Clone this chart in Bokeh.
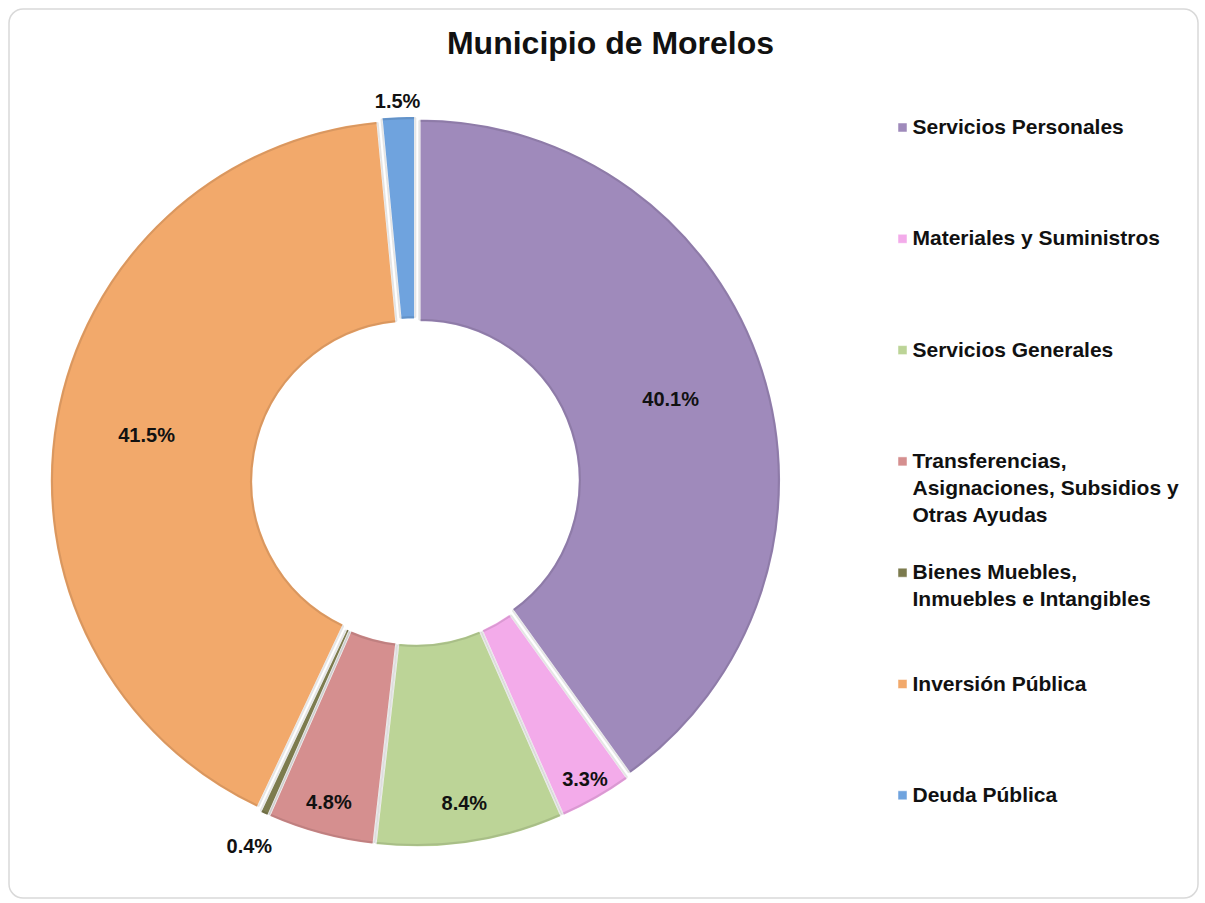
import math
from bokeh.plotting import figure
from bokeh.models import Range1d, ColumnDataSource
from bokeh.core.properties import value
from bokeh.embed import file_html
from bokeh.resources import INLINE

# ---- data ----
categories = [
    "Servicios Personales",
    "Materiales y Suministros",
    "Servicios Generales",
    "Transferencias, Asignaciones, Subsidios y Otras Ayudas",
    "Bienes Muebles, Inmuebles e Intangibles",
    "Inversión Pública",
    "Deuda Pública",
]
legend_labels = [
    "Servicios Personales",
    "Materiales y Suministros",
    "Servicios Generales",
    "Transferencias,\nAsignaciones, Subsidios y\nOtras Ayudas",
    "Bienes Muebles,\nInmuebles e Intangibles",
    "Inversión Pública",
    "Deuda Pública",
]
percent = [40.1, 3.3, 8.4, 4.8, 0.4, 41.5, 1.5]
pct_labels = ["40.1%", "3.3%", "8.4%", "4.8%", "0.4%", "41.5%", "1.5%"]
title_text = "Municipio de Morelos"

# ---- style ----
colors = ["#9F8ABB", "#F3ABEA", "#BCD497", "#D58F8F", "#7C7B4E", "#F2A96B", "#6FA3DE"]
label_radius = [268, 342, 325, 332, 401, 273, 381]

W, H = 1200, 900
cx, cy = 415, H - 481
R_OUT, R_IN = 362, 158
EXPLODE = 4
FONT = "Liberation Sans"

p = figure(width=W, height=H, output_backend="svg", toolbar_location=None,
           x_range=Range1d(0, W), y_range=Range1d(0, H), min_border=0,
           background_fill_color="white", border_fill_color="white")
p.axis.visible = False
p.grid.visible = False
p.outline_line_color = None

# chart-area border (rounded if supported)
try:
    p.quad(left=[8.5], right=[1197.5], top=[H - 8.5], bottom=[H - 897.5],
           fill_color=None, line_color="#D9D9D9", line_width=1.5, border_radius=14)
except Exception:
    p.quad(left=[8.5], right=[1197.5], top=[H - 8.5], bottom=[H - 897.5],
           fill_color=None, line_color="#D9D9D9", line_width=1.5)

total = sum(percent)
starts, ends, xs, ys, lx, ly = [], [], [], [], [], []
cum = 0.0
for v, lr in zip(percent, label_radius):
    a0 = math.pi / 2 - 2 * math.pi * (cum + v) / total
    a1 = math.pi / 2 - 2 * math.pi * cum / total
    mid = (a0 + a1) / 2
    starts.append(a0)
    ends.append(a1)
    xs.append(cx + EXPLODE * math.cos(mid))
    ys.append(cy + EXPLODE * math.sin(mid))
    lx.append(cx + lr * math.cos(mid))
    ly.append(cy + lr * math.sin(mid))
    cum += v

src = ColumnDataSource(dict(x=xs, y=ys, start=starts, end=ends, color=colors,
                            lx=lx, ly=ly, lab=pct_labels, cat=categories))

p.annular_wedge(x="x", y="y", inner_radius=R_IN, outer_radius=R_OUT,
                start_angle="start", end_angle="end", fill_color="color",
                line_color="white", line_width=2.5, source=src)
# subtle darker rim for the bevelled look
p.annular_wedge(x="x", y="y", inner_radius=R_IN + 2.5, outer_radius=R_OUT - 2.5,
                start_angle="start", end_angle="end", fill_color=None,
                line_color="#000000", line_alpha=0.10, line_width=2, source=src)

p.text(x="lx", y="ly", text="lab", source=src, text_align="center",
       text_baseline="middle", text_font=value(FONT), text_font_style="bold",
       text_font_size="20px", text_color="#111111")

# title
p.text(x=[610], y=[H - 42], text=[title_text], text_align="center",
       text_baseline="middle", text_font=value(FONT), text_font_style="bold",
       text_font_size="32px", text_color="#111111")

# legend (drawn manually)
leg_x = 902
leg_y0 = H - 127
leg_step = 111.3
n = len(categories)
leg_ys = [leg_y0 - i * leg_step for i in range(n)]
lsrc = ColumnDataSource(dict(x=[leg_x] * n, y=leg_ys, color=colors,
                             tx=[leg_x + 10] * n,
                             ty=[y + 12.5 for y in leg_ys], lab=legend_labels))
p.rect(x="x", y="y", width=9, height=9, fill_color="color", line_color="#FFFFFF",
       line_width=0.5, source=lsrc)
p.text(x="tx", y="ty", text="lab", source=lsrc, text_align="left",
       text_baseline="top", text_font=value(FONT), text_font_style="bold",
       text_font_size="21px", text_line_height=1.17, text_color="#111111")

open("out.html", "w").write(file_html(p, INLINE))
